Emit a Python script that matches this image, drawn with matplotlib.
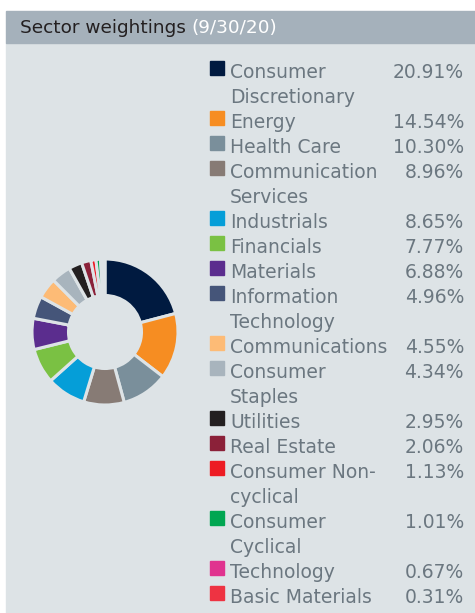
import matplotlib.pyplot as plt
from matplotlib.patches import Rectangle

sectors = ["Consumer\nDiscretionary", "Energy", "Health Care", "Communication\nServices",
           "Industrials", "Financials", "Materials", "Information\nTechnology",
           "Communications", "Consumer\nStaples", "Utilities", "Real Estate",
           "Consumer Non-\ncyclical", "Consumer\nCyclical", "Technology", "Basic Materials"]
weights = [20.91, 14.54, 10.30, 8.96, 8.65, 7.77, 6.88, 4.96,
           4.55, 4.34, 2.95, 2.06, 1.13, 1.01, 0.67, 0.31]
colors = ["#001a40", "#f68d22", "#7a8f9b", "#877b75", "#059ed8", "#7ac143",
          "#5b2d8e", "#455579", "#fdbb76", "#a8b4bd", "#231f20", "#8b2139",
          "#ed1c24", "#00a651", "#e0338f", "#ee3342"]

W, H = 475, 613
bg = "#dde3e6"
txt = "#6b7780"
font = "DejaVu Sans"

fig = plt.figure(figsize=(W / 100, H / 100), dpi=100)
fig.patch.set_facecolor("white")

# rectangles in pixel coordinates, y measured from the top
def px_rect(x0, y0, x1, y1, color, z=1):
    fig.patches.append(Rectangle((x0 / W, 1 - y1 / H), (x1 - x0) / W, (y1 - y0) / H,
                                 transform=fig.transFigure, color=color, zorder=z))

px_rect(6, 43, W, H, bg, z=-10)
px_rect(6, 11, W, 43, "#a5b1bb", z=-10)

hdr = fig.text(20 / W, 1 - 33 / H, "Sector weightings ", fontsize=13.3, color="#231f20",
               va="baseline", family=font)
fig.canvas.draw()
bb = hdr.get_window_extent()
fig.text(bb.x1 / W, 1 - 33 / H, "(9/30/20)", fontsize=13.3, color="white",
         va="baseline", family=font)

# donut
cx, cy, r = 105, 332, 73
ax = fig.add_axes([(cx - r) / W, 1 - (cy + r) / H, 2 * r / W, 2 * r / H])
ax.pie(weights, colors=colors, startangle=90, counterclock=False,
       wedgeprops=dict(width=0.5, edgecolor=bg, linewidth=2.2))
ax.set_xlim(-1, 1)
ax.set_ylim(-1, 1)
ax.set_aspect("equal")
ax.axis("off")

# legend with values
y = 78
for name, w, c in zip(sectors, weights, colors):
    px_rect(210, y - 17, 224, y - 3, c)
    fig.text(464 / W, 1 - y / H, f"{w:.2f}%", fontsize=13.5, color=txt,
             va="baseline", ha="right", family=font)
    for line in name.split("\n"):
        fig.text(230 / W, 1 - y / H, line, fontsize=13.5, color=txt,
                 va="baseline", family=font)
        y += 25

fig.savefig("out.png", dpi=100)
